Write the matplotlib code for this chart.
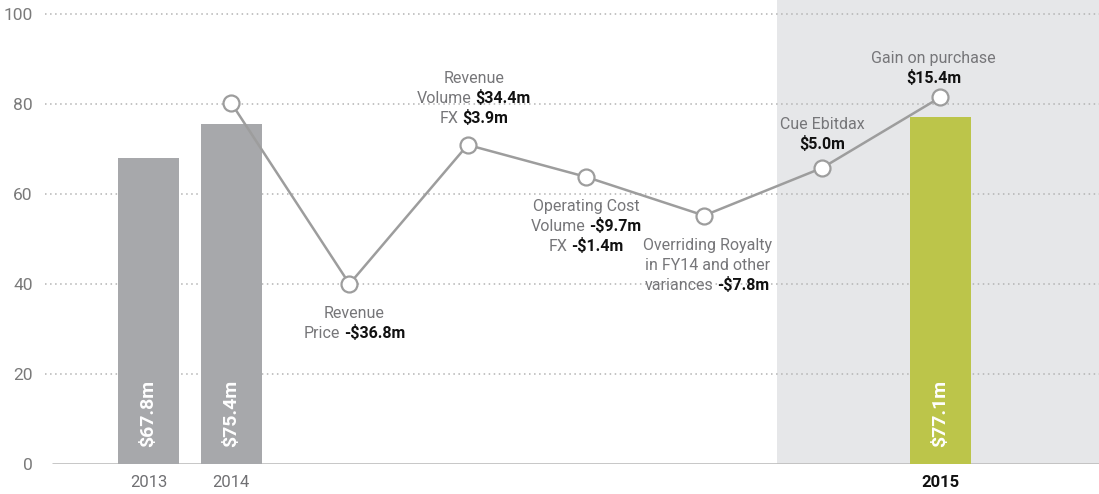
import numpy as np
import matplotlib
matplotlib.use("Agg")
import matplotlib.pyplot as plt
from matplotlib.transforms import ScaledTranslation

plt.rcParams['font.family'] = ['Roboto', 'DejaVu Sans']

# year bars
years = ["2013", "2014", "2015"]
totals = [67.8, 75.4, 77.1]
total_labels = ["$67.8m", "$75.4m", "$77.1m"]

# bridge line between 2014 and 2015
bridge = [80.1, 39.9, 70.8, 63.7, 55.1, 65.7, 81.4]

# text next to each bridge step: list of lines, each line a list of (text, bold)
notes = {
    1: [[("Revenue", False)], [("Price", False), ("-$36.8m", True)]],
    2: [[("Revenue", False)], [("Volume", False), ("$34.4m", True)], [("FX", False), ("$3.9m", True)]],
    3: [[("Operating Cost", False)], [("Volume", False), ("-$9.7m", True)], [("FX", False), ("-$1.4m", True)]],
    4: [[("Overriding Royalty", False)], [("in FY14 and other", False)], [("variances", False), ("-$7.8m", True)]],
    5: [[("Cue Ebitdax", False)], [("$5.0m", True)]],
    6: [[("Gain on purchase", False)], [("$15.4m", True)]],
}
# (dx, dy of first baseline) in pixels from the marker, dy positive = down
note_pos = {1: (5, 34), 2: (6, -62), 3: (0, 34), 4: (3, 34), 5: (0, -39), 6: (-7, -34)}

GREY = "#a7a8ab"
GREEN = "#bcc54a"
TXT = "#767679"

bar_x = [0.3, 1.0, 7.0]
line_x = np.arange(1, 8)
xmin, xmax = -0.576, 8.341

fig = plt.figure(figsize=(10.99, 4.94), dpi=100)
ax = fig.add_axes([45 / 1099, 30.5 / 494, 1054 / 1099, 463.5 / 494])
ax.set_xlim(xmin, xmax)
ax.set_ylim(0, 103)

ax.axvspan(5.617, xmax, color="#e6e7e9", lw=0, zorder=0)
for v in range(20, 101, 20):
    ax.axhline(v, color="#b3b3b3", lw=1.1, ls=(0, (1, 2.3)), zorder=1)
ax.plot([-0.517, xmax], [0, 0], color="#bdbdbd", lw=1.9, solid_capstyle="butt", zorder=2)

ax.bar(bar_x, totals, width=0.516, color=[GREY, GREY, GREEN], zorder=3)
for x, lab in zip(bar_x, total_labels):
    ax.text(x, 3.7, lab, rotation=90, ha="center", va="bottom", color="white",
            fontsize=14, fontweight="bold", zorder=6)

ax.plot(line_x, bridge, color="#9d9d9d", lw=1.8, zorder=4)
ax.plot(line_x, bridge, "o", ms=11.5, mfc="white", mec="#9d9d9d", mew=1.6, zorder=5)

fig.canvas.draw()
renderer = fig.canvas.get_renderer()
gap = 4
for i, lines in notes.items():
    dx, dy = note_pos[i]
    for k, line in enumerate(lines):
        ty = dy + k * 20
        pieces = []
        for s, bold in line:
            t = ax.text(line_x[i], bridge[i], s, ha="left", va="baseline", fontsize=11.5,
                        color="#111111" if bold else TXT,
                        fontweight="bold" if bold else "normal", zorder=7)
            pieces.append(t)
        widths = [t.get_window_extent(renderer).width for t in pieces]
        total = sum(widths) + gap * (len(pieces) - 1)
        off = dx - total / 2
        for t, w in zip(pieces, widths):
            t.set_transform(ax.transData + ScaledTranslation(off / 100, -ty / 100, fig.dpi_scale_trans))
            off += w + gap

ax.set_yticks(range(0, 101, 20))
ax.tick_params(axis="y", length=0, pad=9, labelsize=12.5, labelcolor="#7a7a7a")
ax.set_xticks(bar_x)
ax.set_xticklabels(years)
ax.tick_params(axis="x", length=0, pad=8, labelsize=12, labelcolor="#707073")
xl = ax.get_xticklabels()
xl[2].set_fontweight("bold")
xl[2].set_color("#111111")

for s in ax.spines.values():
    s.set_visible(False)

fig.savefig("out.png", dpi=100)
